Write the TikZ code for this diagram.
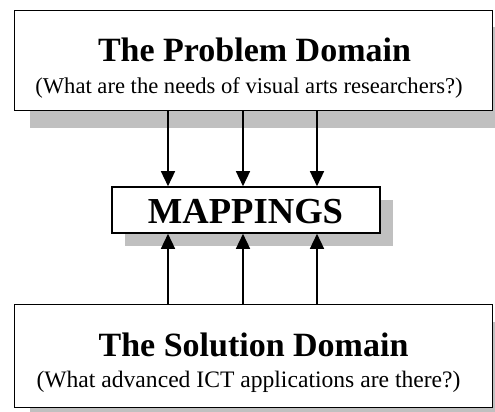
\documentclass[tikz,border=0pt]{standalone}
\usepackage{fontspec}
\setmainfont{Liberation Serif}
\usepackage{tikz}
\usepackage{xcolor}
\usetikzlibrary{arrows.meta, shadows}
\definecolor{shadowgray}{RGB}{192, 192, 192}
\tikzset{
    domainbox/.style={rectangle, draw, line width=1.6pt, fill=white, inner sep=0pt, minimum width=478pt,
        drop shadow={shadow xshift=15pt, shadow yshift=-17pt, fill=shadowgray, opacity=1}},
    mapbox/.style={rectangle, draw, line width=1.6pt, fill=white, inner sep=0pt, minimum width=268pt, minimum height=46pt,
        drop shadow={shadow xshift=13pt, shadow yshift=-13pt, fill=shadowgray, opacity=1}},
    titletext/.style={anchor=base, inner sep=0pt, font=\fontsize{34}{40}\selectfont\bfseries},
    subtext/.style={anchor=base, inner sep=0pt, font=\fontsize{#1}{27}\selectfont},
    maptext/.style={anchor=base, inner sep=0pt, font=\fontsize{36.6}{42}\selectfont\bfseries},
    maparrow/.style={-{Triangle[length=15pt, width=14pt]}, line width=1.5pt}
}

\begin{document}
\begin{tikzpicture}[x=1pt, y=-1pt]
    \useasboundingbox (0,0) rectangle (495,412);

    % boxes
    \node[domainbox, minimum height=100pt] (problem) at (253.5,60.5) {};
    \node[mapbox] (mappings) at (246,210) {};
    \node[domainbox, minimum height=103pt] (solution) at (253.5,356) {};

    % texts
    \node[titletext] (problemtitle) at (254.5,62) {The Problem Domain};
    \node[subtext=22.6] (problemsub) at (249,93) {(What are the needs of visual arts researchers?)};
    \node[maptext] (maptitle) at (245.5,223) {MAPPINGS};
    \node[titletext] (solutiontitle) at (253.5,356) {The Solution Domain};
    \node[subtext=23.6] (solutionsub) at (248.5,387) {(What advanced ICT applications are there?)};

    % arrows
    \foreach \x in {168,243,317} {
        \draw[maparrow] (problem.south -| \x,0) -- (mappings.north -| \x,0);
        \draw[maparrow] (solution.north -| \x,0) -- (mappings.south -| \x,0);
    }
\end{tikzpicture}
\end{document}
